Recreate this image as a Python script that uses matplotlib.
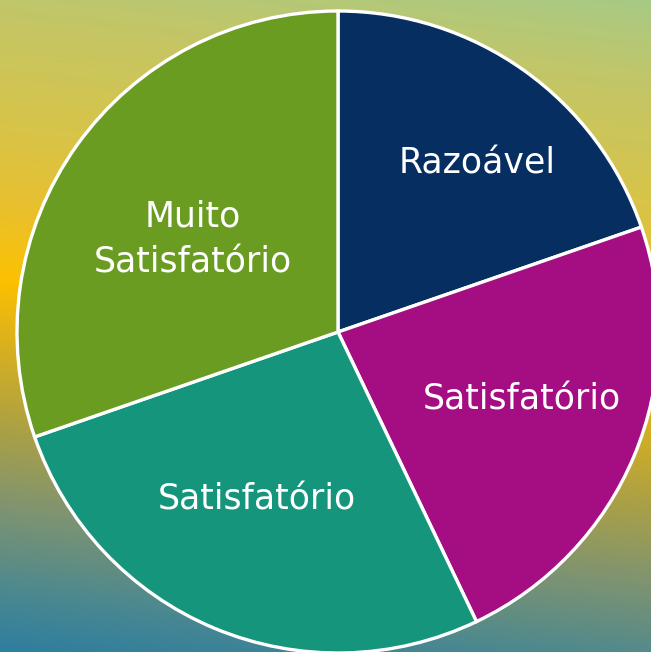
import numpy as np
import matplotlib
matplotlib.use("Agg")
import matplotlib.pyplot as plt
from matplotlib.colors import LinearSegmentedColormap

# data (approximate shares)
labels = ["Razoável", "Satisfatório", "Satisfatório", "Muito\nSatisfatório"]
values = [19.7, 23.2, 26.8, 30.3]
colors = ["#062E60", "#A50E82", "#15967C", "#6A9C22"]

W, H = 651, 652
cx, cy, R = 338, H - 332, 321

fig = plt.figure(figsize=(W / 100, H / 100), dpi=100)

# background gradient, slightly tilted
bg = fig.add_axes([0, 0, 1, 1])
stops = [(0.0, "#A8CA84"), (0.11, "#C2C668"), (0.28, "#D8C448"),
         (0.38, "#E8C030"), (0.49, "#FCC000"), (0.58, "#D8B020"),
         (0.70, "#A8A048"), (0.80, "#809470"), (0.92, "#4A8890"),
         (1.0, "#2E7EA0")]
cmap = LinearSegmentedColormap.from_list("bg", stops)
yy, xx = np.mgrid[0:H, 0:W]
t = (yy - 0.115 * xx) / H
t = (t + 0.115) / 1.115
bg.imshow(t, cmap=cmap, vmin=0, vmax=1, extent=[0, W, H, 0], aspect="auto",
          interpolation="bilinear")
bg.set_axis_off()

ax = fig.add_axes([0, 0, 1, 1])
ax.patch.set_alpha(0)
wedges, texts = ax.pie(values, labels=labels, colors=colors, startangle=90,
                       counterclock=False, radius=R, center=(cx, cy),
                       frame=True, labeldistance=0.6,
                       wedgeprops=dict(edgecolor="white", linewidth=2.4),
                       textprops=dict(color="white", fontsize=25,
                                      family=["DejaVu Sans"],
                                      ha="center", va="center",
                                      linespacing=1.45))

# nudge label placement to match the reference
dist = [0.68, 0.61, 0.58, 0.535]
dang = [-4.0, 2.5, -3.3, 3.0]
for w, txt, d, da in zip(wedges, texts, dist, dang):
    ang = np.deg2rad((w.theta1 + w.theta2) / 2 + da)
    txt.set_position((cx + d * R * np.cos(ang), cy + d * R * np.sin(ang)))
    txt.set_ha("center")
    txt.set_va("center")

ax.set_xlim(0, W)
ax.set_ylim(0, H)
ax.set_aspect("auto")
ax.set_axis_off()

fig.savefig("out.png", dpi=100)
